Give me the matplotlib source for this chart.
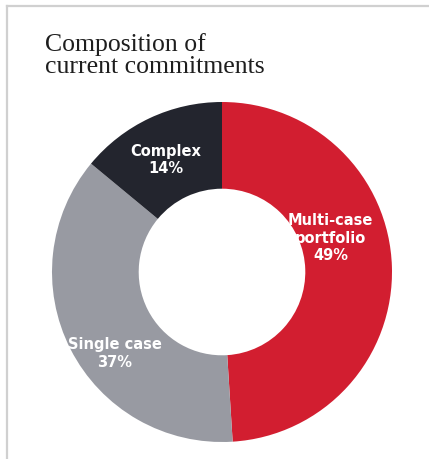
import matplotlib
matplotlib.use("Agg")
import matplotlib.pyplot as plt
from matplotlib.lines import Line2D

# data
segments = ["Multi-case\nportfolio", "Single case", "Complex"]
shares = [49, 37, 14]
colors = ["#d21e30", "#989aa2", "#23252e"]
# label spots inside the ring (axes data units, radius = 1)
label_pos = [(0.64, 0.20), (-0.63, -0.48), (-0.33, 0.66)]

W, H = 429, 459
fig = plt.figure(figsize=(W / 100, H / 100), dpi=100)
fig.patch.set_facecolor("white")

# thin frame on the top and left edges
fig.add_artist(Line2D([7 / W, 1], [1 - 6 / H, 1 - 6 / H], color="#d0d0d0", lw=1.6,
                      transform=fig.transFigure))
fig.add_artist(Line2D([7 / W, 7 / W], [0, 1 - 6 / H], color="#d0d0d0", lw=1.6,
                      transform=fig.transFigure))

cx, cy, r = 222, 272, 170
ax = fig.add_axes([(cx - r) / W, (H - cy - r) / H, 2 * r / W, 2 * r / H])
ax.pie(shares, colors=colors, startangle=90, counterclock=False,
       wedgeprops=dict(width=0.51, edgecolor="none"))
ax.set_xlim(-1, 1)
ax.set_ylim(-1, 1)
ax.set_aspect("equal")
ax.axis("off")

for name, val, (x, y) in zip(segments, shares, label_pos):
    ax.text(x, y, f"{name}\n{val}%", ha="center", va="center", color="white",
            fontsize=10.5, fontweight="bold", family="DejaVu Sans", linespacing=1.2)

fig.text(45 / W, 1 - 33 / H, "Composition of\ncurrent commitments", ha="left", va="top",
         fontsize=18.5, family="Liberation Serif", color="#1e1e1e", linespacing=0.98)

fig.savefig("out.png", dpi=100)
